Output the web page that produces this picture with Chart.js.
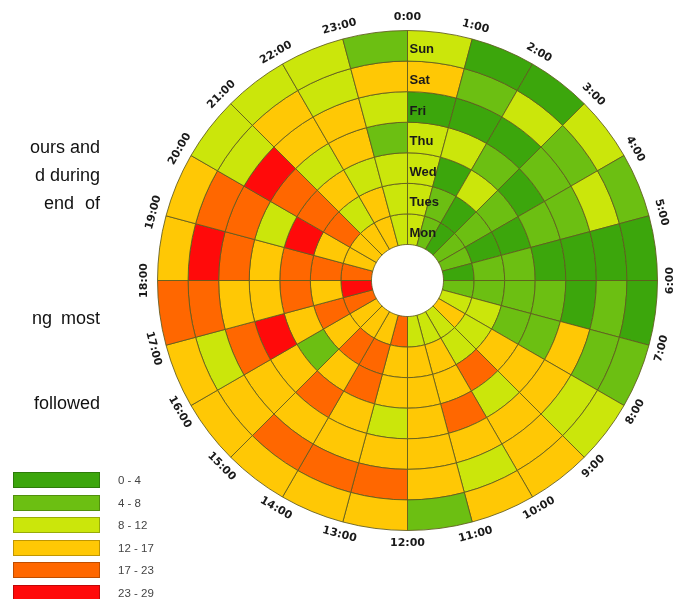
<!DOCTYPE html>
<html>
<head>
<meta charset="utf-8">
<title>Radial heatmap</title>
<script src="https://cdn.jsdelivr.net/npm/chart.js@4.4.0/dist/chart.umd.min.js"></script>
<style>
  html, body { margin: 0; padding: 0; background: #fff; }
  #wrap { position: relative; width: 687px; height: 599px; overflow: hidden; }
  #chart { position: absolute; left: 0; top: 0; }
  .line { position: absolute; right: 587px; font-family: "Liberation Sans", Arial, sans-serif;
          font-size: 18px; line-height: 20px; color: #111; white-space: nowrap; }
  .key { position: absolute; left: 13px; width: 85px; height: 14px; border: 1px solid rgba(0,0,0,0.25); }
  .keylbl { position: absolute; left: 118px; font-family: "Liberation Sans", Arial, sans-serif;
            font-size: 11.5px; line-height: 16px; color: #444; }
</style>
</head>
<body>
<div id="wrap">
  <canvas id="chart" width="687" height="599"></canvas>
  <div class="line" style="top:137px">ours and</div>
  <div class="line" style="top:165px">d during</div>
  <div class="line" style="top:193px; word-spacing:6px">end of</div>
  <div class="line" style="top:308px; word-spacing:4px">ng most</div>
  <div class="line" style="top:393px">followed</div>
  <div id="legend"></div>
</div>
<script>
const hours = ['0:00','1:00','2:00','3:00','4:00','5:00','6:00','7:00','8:00','9:00','10:00','11:00',
               '12:00','13:00','14:00','15:00','16:00','17:00','18:00','19:00','20:00','21:00','22:00','23:00'];

// values per hour (0:00 .. 23:00) for each day
const mon  = [10, 6, 3, 5, 6, 2, 7, 9, 14, 11, 10, 9, 19, 15, 13, 14, 20, 25, 21, 14, 16, 13, 15, 10];
const tues = [9, 5, 2, 6, 3, 7, 6, 11, 10, 9, 13, 14, 15, 18, 20, 16, 21, 14, 19, 15, 22, 10, 13, 11];
const wed  = [11, 3, 9, 6, 2, 5, 7, 6, 14, 19, 16, 13, 14, 20, 15, 7, 13, 18, 22, 26, 20, 14, 10, 9];
const thu  = [10, 9, 5, 3, 7, 1, 6, 5, 15, 11, 21, 14, 10, 13, 19, 16, 27, 14, 15, 9, 18, 11, 13, 6];
const fri  = [2, 1, 3, 7, 6, 2, 3, 13, 15, 14, 16, 13, 14, 15, 13, 16, 20, 14, 21, 19, 24, 13, 15, 10];
const sat  = [14, 6, 10, 5, 9, 2, 7, 6, 11, 13, 10, 15, 18, 21, 19, 14, 11, 22, 26, 20, 9, 16, 10, 14];
const sun  = [10, 2, 1, 11, 7, 3, 2, 6, 9, 15, 14, 5, 16, 13, 14, 15, 13, 19, 14, 16, 11, 10, 9, 7];

// outer ring first
const dayNames = ['Sun', 'Sat', 'Fri', 'Thu', 'Wed', 'Tues', 'Mon'];
const dayValues = [sun, sat, fri, thu, wed, tues, mon];

const binEdges  = [0, 4, 8, 12, 17, 23, 29];
const binLabels = ['0 - 4', '4 - 8', '8 - 12', '12 - 17', '17 - 23', '23 - 29'];
const binColors = ['#3ca60c', '#6cbf12', '#cbe60b', '#ffc805', '#ff6700', '#ff0a0a'];

function colorFor(v) {
  for (let i = binEdges.length - 2; i >= 0; i--) {
    if (v >= binEdges[i]) return binColors[i];
  }
  return binColors[0];
}

// legend
const legend = document.getElementById('legend');
binLabels.forEach((lbl, i) => {
  const top = 472 + i * 22.5;
  legend.innerHTML += `<div class="key" style="top:${top}px; background:${binColors[i]}"></div>
    <div class="keylbl" style="top:${top}px">${lbl}</div>`;
});

const ringLabels = {
  id: 'ringLabels',
  afterDatasetsDraw(chart) {
    const ctx = chart.ctx;
    const first = chart.getDatasetMeta(0).data[0];
    const cx = first.x, cy = first.y, R = first.outerRadius;

    ctx.save();
    ctx.fillStyle = '#1a1a1a';
    ctx.textAlign = 'center';
    ctx.textBaseline = 'middle';
    ctx.font = 'bold 11px "DejaVu Sans"';
    hours.forEach((h, i) => {
      const deg = i * 15;
      const a = deg * Math.PI / 180;
      const x = cx + (R + 13) * Math.sin(a);
      const y = cy - (R + 13) * Math.cos(a);
      const rot = (deg >= 90 && deg < 270) ? deg - 180 : deg;
      ctx.save();
      ctx.translate(x, y);
      ctx.rotate(rot * Math.PI / 180);
      ctx.fillText(h, 0, 0);
      ctx.restore();
    });

    // day names down the 0:00 line
    ctx.textAlign = 'left';
    ctx.font = 'bold 13px "Liberation Sans", Arial';
    dayNames.forEach((d, i) => {
      const arc = chart.getDatasetMeta(i).data[0];
      const mid = (arc.innerRadius + arc.outerRadius) / 2;
      ctx.fillText(d, cx + 2, cy - mid + 4);
    });
    ctx.restore();
  }
};

new Chart(document.getElementById('chart'), {
  type: 'doughnut',
  data: {
    labels: hours,
    datasets: dayNames.map((d, i) => ({
      label: d,
      data: hours.map(() => 1),
      backgroundColor: dayValues[i].map(colorFor),
      borderColor: 'rgba(95,90,30,0.85)',
      borderWidth: 1,
      offset: 0,
      hoverOffset: 0
    }))
  },
  options: {
    responsive: false,
    animation: false,
    cutout: '14.4%',
    rotation: 0,
    circumference: 360,
    layout: { padding: { left: 157, top: 30, right: 29, bottom: 68 } },
    plugins: { legend: { display: false }, tooltip: { enabled: false } }
  },
  plugins: [ringLabels]
});
</script>
</body>
</html>
